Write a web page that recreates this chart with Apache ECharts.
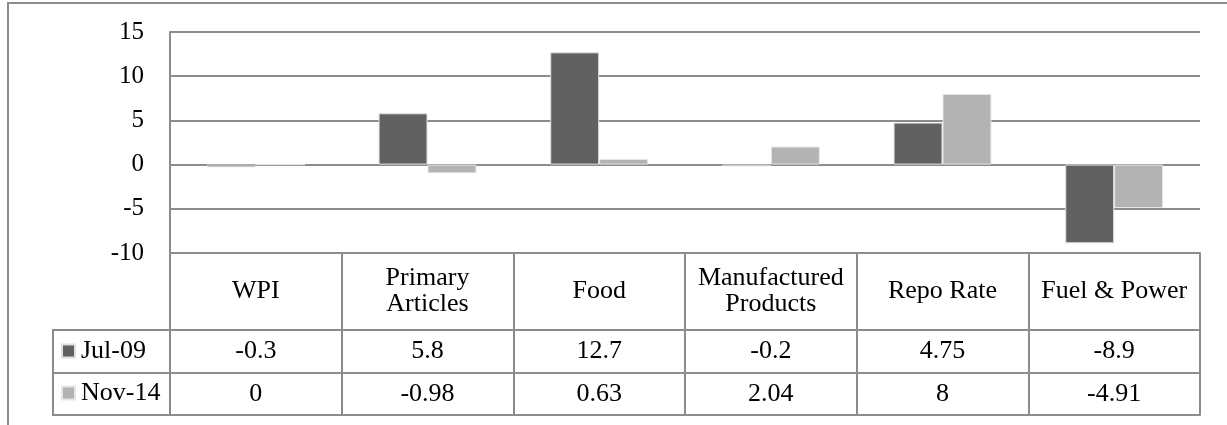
<!DOCTYPE html>
<html>
<head>
<meta charset="utf-8">
<title>Inflation components and repo rate: Jul-09 vs Nov-14</title>
<script src="https://cdn.jsdelivr.net/npm/echarts@6/dist/echarts.min.js"></script>
<style>
  html, body { margin: 0; padding: 0; background: #ffffff; }
  #chart { width: 1227px; height: 425px; }
</style>
</head>
<body>
<div id="chart"></div>
<script>
// Categories (header row of the data table) and the two series
const categories = ['WPI', 'Primary\nArticles', 'Food', 'Manufactured\nProducts', 'Repo Rate', 'Fuel & Power'];
const seriesNames = ['Jul-09', 'Nov-14'];
const jul09 = [-0.3, 5.8, 12.7, -0.2, 4.75, -8.9];
const nov14 = [0, -0.98, 0.63, 2.04, 8, -4.91];
const yTicks = { min: -10, max: 15, step: 5 };

const FONT = '"Liberation Serif", "Times New Roman", serif';
const LINE = '#8c8c8c';
const DARK = '#616161';
const LIGHT = '#b3b3b3';
const FS = 26;
const FS_TICK = 25;

// Table geometry below the plot area
const HEADER_H = 77;
const ROW_H = [43, 42];
const LEGEND_LEFT = 53;

const chart = echarts.init(document.getElementById('chart'), null, { renderer: 'canvas' });

const gridLeft = 170, gridRight = 27, gridTop = 32, gridBottom = 172;
const plotBottom = 425 - gridBottom;
const row1Top = plotBottom + HEADER_H;
const row2Top = row1Top + ROW_H[0];
const tableBottom = row2Top + ROW_H[1];

const tableLine = { show: true, onZero: false, lineStyle: { color: LINE, width: 2 } };

const valueAxisLabel = (centre) => ({
  show: true,
  interval: 0,
  margin: centre,
  verticalAlign: 'middle',
  fontFamily: FONT,
  fontSize: FS,
  color: '#000'
});

const option = {
  animation: false,
  backgroundColor: '#ffffff',
  textStyle: { fontFamily: FONT },
  grid: { left: gridLeft, right: gridRight, top: gridTop, bottom: gridBottom, containLabel: false },
  legend: {
    data: seriesNames,
    orient: 'vertical',
    left: 61,
    top: row1Top + ROW_H[0] / 2 - 14.5,
    padding: 0,
    icon: 'rect',
    itemWidth: 13,
    itemHeight: 13,
    itemGap: 14,
    textStyle: { fontFamily: FONT, fontSize: FS, lineHeight: 28, color: '#000', padding: [0, 0, 0, 1] }
  },
  xAxis: [
    {
      type: 'category',
      data: categories,
      position: 'bottom',
      axisLine: tableLine,
      axisTick: { show: true, interval: 0, length: HEADER_H + ROW_H[0] + ROW_H[1], lineStyle: { color: LINE, width: 2 } },
      axisLabel: {
        interval: 0,
        margin: HEADER_H / 2,
        verticalAlign: 'middle',
        fontFamily: FONT,
        fontSize: FS,
        lineHeight: 26,
        color: '#000'
      },
      splitLine: { show: false }
    },
    {
      type: 'category',
      data: jul09.map(String),
      position: 'bottom',
      offset: HEADER_H,
      axisLine: tableLine,
      axisTick: { show: false },
      axisLabel: valueAxisLabel(ROW_H[0] / 2)
    },
    {
      type: 'category',
      data: nov14.map(String),
      position: 'bottom',
      offset: HEADER_H + ROW_H[0],
      axisLine: tableLine,
      axisTick: { show: false },
      axisLabel: valueAxisLabel(ROW_H[1] / 2)
    },
    {
      type: 'category',
      data: categories,
      position: 'bottom',
      offset: HEADER_H + ROW_H[0] + ROW_H[1],
      axisLine: tableLine,
      axisTick: { show: false },
      axisLabel: { show: false }
    }
  ],
  yAxis: {
    type: 'value',
    min: yTicks.min,
    max: yTicks.max,
    interval: yTicks.step,
    axisLine: { show: true, onZero: false, lineStyle: { color: LINE, width: 2 } },
    axisTick: { show: false },
    axisLabel: { margin: 26, fontFamily: FONT, fontSize: FS_TICK, color: '#000' },
    splitLine: { show: true, lineStyle: { color: LINE, width: 2 } }
  },
  series: [
    {
      name: seriesNames[0],
      type: 'bar',
      data: jul09,
      barGap: '0%',
      barCategoryGap: '43%',
      itemStyle: { color: DARK, borderColor: '#e0e0e0', borderWidth: 1 }
    },
    {
      name: seriesNames[1],
      type: 'bar',
      data: nov14,
      itemStyle: { color: LIGHT, borderColor: '#e6e6e6', borderWidth: 1 }
    }
  ],
  graphic: [
    // outer chart-area frame
    {
      type: 'rect', silent: true,
      shape: { x: 8, y: 3, width: 1240, height: 440 },
      style: { fill: 'none', stroke: LINE, lineWidth: 2 }
    },
    // legend column of the data table
    {
      type: 'polyline', silent: true,
      shape: { points: [[gridLeft, row1Top], [LEGEND_LEFT, row1Top], [LEGEND_LEFT, tableBottom], [gridLeft, tableBottom]] },
      style: { fill: 'none', stroke: LINE, lineWidth: 2 }
    },
    {
      type: 'line', silent: true,
      shape: { x1: LEGEND_LEFT, y1: row2Top, x2: gridLeft, y2: row2Top },
      style: { stroke: LINE, lineWidth: 2 }
    }
  ]
};

chart.setOption(option);
</script>
</body>
</html>
